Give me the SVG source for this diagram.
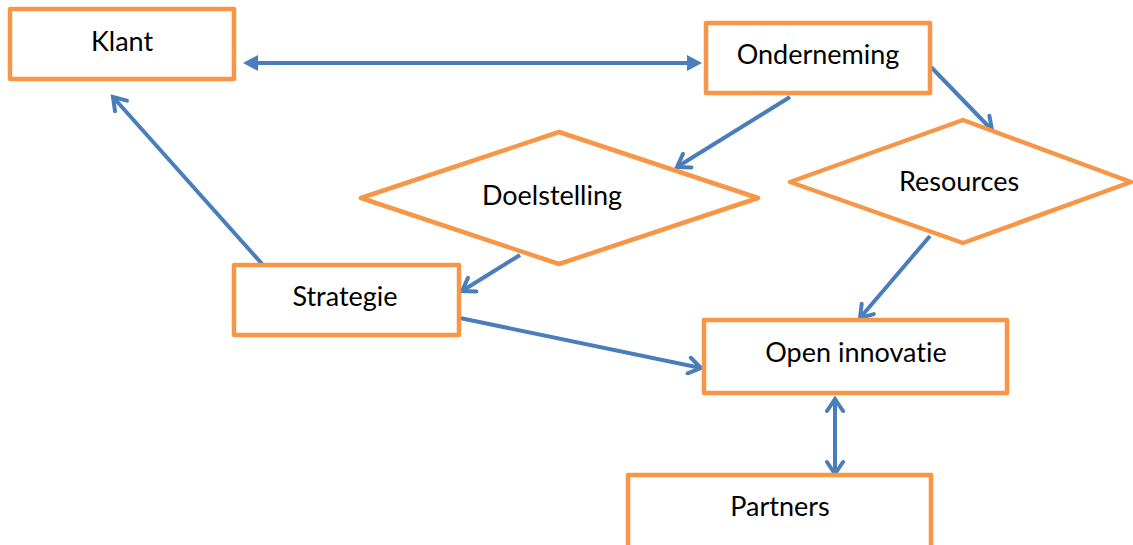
<svg xmlns="http://www.w3.org/2000/svg" width="1133" height="545" viewBox="0 0 1133 545">
<style>
.box{fill:#fff;stroke:#f79646;stroke-width:4.5;stroke-linejoin:round}
.lbl{font-family:Lato,"Open Sans","Liberation Sans",sans-serif;font-size:27px;fill:#000;text-anchor:middle;font-variant-ligatures:none}
.con{stroke:#4a7ebb;stroke-width:4;fill:none}
</style>
<defs>
<marker id="open" markerUnits="userSpaceOnUse" viewBox="-16 -10 20 20" refX="0" refY="0" markerWidth="20" markerHeight="20" orient="auto-start-reverse">
<path d="M-12,-8 L0,0 L-12,8" fill="none" stroke="#4a7ebb" stroke-width="4" stroke-linecap="round" stroke-linejoin="miter"/>
</marker>
<marker id="fill" markerUnits="userSpaceOnUse" viewBox="-16 -10 20 20" refX="-7" refY="0" markerWidth="20" markerHeight="20" orient="auto-start-reverse">
<path d="M-15,-8 L0,0 L-15,8 Z" fill="#4a7ebb"/>
</marker>
</defs>
<g id="connectors">
<line class="con" x1="250" y1="63" x2="695" y2="63" marker-start="url(#fill)" marker-end="url(#fill)"/>
<line class="con" x1="263" y1="265" x2="113" y2="97" marker-end="url(#open)"/>
<line class="con" x1="790" y1="97" x2="677" y2="167" marker-end="url(#open)"/>
<line class="con" x1="931" y1="67" x2="992" y2="130" marker-end="url(#open)"/>
<line class="con" x1="520" y1="255" x2="462" y2="291" marker-end="url(#open)"/>
<line class="con" x1="460" y1="318" x2="701" y2="368" marker-end="url(#open)"/>
<line class="con" x1="930" y1="236" x2="860" y2="318" marker-end="url(#open)"/>
<line class="con" x1="835" y1="399" x2="835" y2="474" marker-start="url(#open)" marker-end="url(#open)"/>
</g>
<g id="klant"><rect class="box" x="10" y="9" width="224" height="70"/><text class="lbl" x="122" y="51">Klant</text></g>
<g id="onderneming"><rect class="box" x="706" y="23" width="224" height="70"/><text class="lbl" x="818" y="64">Onderneming</text></g>
<g id="doelstelling"><polygon class="box" points="361,198 559,132 758,198 559,264"/><text class="lbl" x="552" y="205">Doelstelling</text></g>
<g id="resources"><polygon class="box" points="790,182 963,120 1131,182 963,243"/><text class="lbl" x="959" y="191">Resources</text></g>
<g id="strategie"><rect class="box" x="234" y="265" width="225" height="70"/><text class="lbl" x="345" y="306">Strategie</text></g>
<g id="open-innovatie"><rect class="box" x="704" y="320" width="303" height="73"/><text class="lbl" x="856" y="362">Open innovatie</text></g>
<g id="partners"><rect class="box" x="628" y="475" width="303" height="80"/><text class="lbl" x="780" y="516">Partners</text></g>
</svg>
